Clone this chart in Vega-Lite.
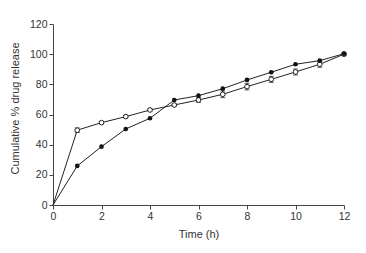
{
  "$schema": "https://vega.github.io/schema/vega-lite/v6.json",
  "autosize": "none",
  "padding": {"left": 53, "top": 24, "right": 22, "bottom": 48},
  "width": 291,
  "height": 181,
  "background": "white",
  "config": {
    "view": {"stroke": null},
    "font": "Liberation Sans",
    "axis": {
      "grid": false,
      "domainColor": "#444",
      "tickColor": "#444",
      "tickSize": 4,
      "labelFontSize": 10.5,
      "labelColor": "#333",
      "labelFlush": false,
      "labelOverlap": false,
      "titleFontSize": 11,
      "titleFontWeight": "normal",
      "titleColor": "#333"
    }
  },
  "data": {
    "values": [
      {"t": 0, "s": "filled", "y": 0, "err": 0},
      {"t": 1, "s": "filled", "y": 25.9, "err": 0},
      {"t": 2, "s": "filled", "y": 38.7, "err": 0},
      {"t": 3, "s": "filled", "y": 50.4, "err": 0},
      {"t": 4, "s": "filled", "y": 57.5, "err": 0},
      {"t": 5, "s": "filled", "y": 69.6, "err": 0},
      {"t": 6, "s": "filled", "y": 72.5, "err": 0},
      {"t": 7, "s": "filled", "y": 77.1, "err": 0},
      {"t": 8, "s": "filled", "y": 82.9, "err": 0},
      {"t": 9, "s": "filled", "y": 88.0, "err": 0},
      {"t": 10, "s": "filled", "y": 93.3, "err": 0},
      {"t": 11, "s": "filled", "y": 95.7, "err": 0},
      {"t": 12, "s": "filled", "y": 100.3, "err": 0},
      {"t": 0, "s": "open", "y": 0, "err": 0},
      {"t": 1, "s": "open", "y": 49.6, "err": 1.5},
      {"t": 2, "s": "open", "y": 54.6, "err": 0.8},
      {"t": 3, "s": "open", "y": 58.6, "err": 0.8},
      {"t": 4, "s": "open", "y": 63.0, "err": 0.8},
      {"t": 5, "s": "open", "y": 66.3, "err": 0.8},
      {"t": 6, "s": "open", "y": 69.6, "err": 1.5},
      {"t": 7, "s": "open", "y": 73.4, "err": 2.2},
      {"t": 8, "s": "open", "y": 78.5, "err": 2.2},
      {"t": 9, "s": "open", "y": 83.3, "err": 2.0},
      {"t": 10, "s": "open", "y": 88.2, "err": 2.0},
      {"t": 11, "s": "open", "y": 93.3, "err": 2.0},
      {"t": 12, "s": "open", "y": 100.0, "err": 1.0}
    ]
  },
  "encoding": {
    "x": {
      "field": "t", "type": "quantitative",
      "scale": {"domain": [0, 12], "nice": false},
      "axis": {"values": [0, 2, 4, 6, 8, 10, 12], "title": "Time (h)", "titlePadding": 7}
    },
    "y": {
      "field": "y", "type": "quantitative",
      "scale": {"domain": [0, 120], "nice": false},
      "axis": {"values": [0, 20, 40, 60, 80, 100, 120], "title": "Cumulative % drug release", "titlePadding": 9, "titleY": 84}
    }
  },
  "layer": [
    {
      "mark": {"type": "line", "color": "#222", "strokeWidth": 1},
      "encoding": {"detail": {"field": "s"}}
    },
    {
      "transform": [{"filter": "datum.s === 'open' && datum.err > 0"}],
      "mark": {"type": "errorbar", "ticks": {"size": 5, "color": "#222"}, "rule": {"color": "#222", "strokeWidth": 1}},
      "encoding": {"yError": {"field": "err"}}
    },
    {
      "transform": [{"filter": "datum.s === 'open' && datum.t > 0"}],
      "mark": {"type": "point", "shape": "circle", "size": 22, "filled": true, "fill": "white", "stroke": "#222", "strokeWidth": 1, "opacity": 1}
    },
    {
      "transform": [{"filter": "datum.s === 'filled' && datum.t > 0"}],
      "mark": {"type": "point", "shape": "circle", "size": 22, "filled": true, "color": "#111", "opacity": 1}
    }
  ]
}
